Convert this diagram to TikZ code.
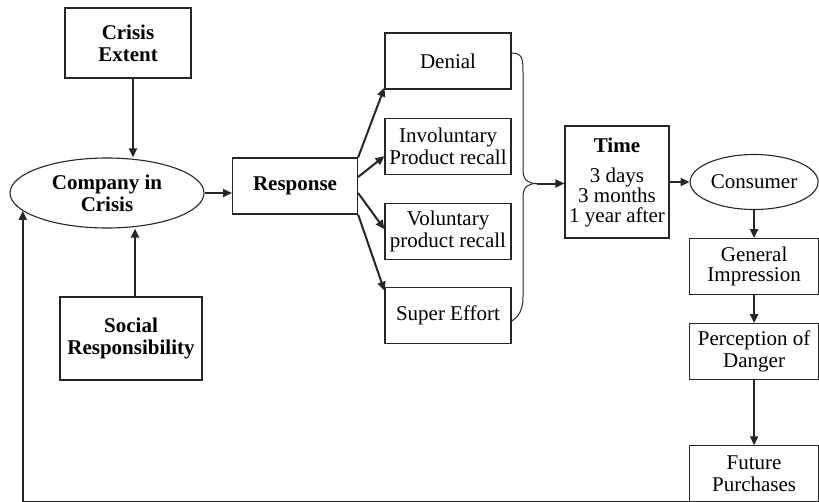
\documentclass[tikz,border=0pt]{standalone}
\usepackage{fontspec}
\setmainfont{Liberation Serif}
\usetikzlibrary{arrows.meta,positioning,shapes.geometric}

\begin{document}
\begin{tikzpicture}[
  x=1pt, y=-1pt,
  font=\fontsize{21}{22}\selectfont,
  >={Triangle[length=9pt, width=8pt]},
  blk/.style={rectangle, draw=black!85, line width=1.1pt, align=center,
              minimum width=126pt, minimum height=56pt, inner sep=2pt},
  oval/.style={ellipse, draw=black!85, line width=1.1pt, align=center, inner sep=0pt},
  hd/.style={font=\fontsize{21}{22}\selectfont\bfseries},
  ar/.style={->, line width=2pt, draw=black!85},
  brc/.style={line width=1pt, draw=black!85},
]
\useasboundingbox (0,0) rectangle (819,501);

% ---------- left: company and its drivers ----------
\node[blk, hd, minimum height=70pt] (ext) at (128,43) {Crisis\\Extent};
\node[oval, hd, minimum width=194pt, minimum height=70pt] (comp) at (107,193) {Company in\\Crisis};
\node[blk, hd, minimum width=142pt, minimum height=83pt] (soc) at (131,338.5) {Social\\Responsibility};
\node[blk, hd, minimum width=125pt, anchor=west] (resp) at (232,186) {Response};

% ---------- response options ----------
\node[blk] (den) at (448,61) {Denial};
\node[blk, below=28pt of den] (invol) {Involuntary\\Product recall};
\node[blk, below=28pt of invol] (vol) {Voluntary\\product recall};
\node[blk, below=27pt of vol] (sup) {Super Effort};

% ---------- time and consumer chain ----------
\node[blk, minimum width=104pt, minimum height=112pt, font=\fontsize{21}{20}\selectfont] (time) at (617,182)
  {\textbf{Time}\\[10pt]3 days\\3 months\\1 year after};
\node[oval, right=20pt of time, minimum width=128pt, minimum height=55pt] (cons) {Consumer};
\node[blk, below=28pt of cons, minimum width=129pt, font=\fontsize{21}{20}\selectfont] (gen) {General\\Impression};
\node[blk, below=28pt of gen, minimum width=129pt] (pd) {Perception of\\Danger};
\node[blk, below=65pt of pd, minimum width=129pt] (fp) {Future\\Purchases};

% ===== inputs to the company =====
\draw[ar] (ext.south -| 133,0) -- (comp.north -| 133,0);
\draw[ar] (soc.north -| 135,0) -- (comp.south -| 135,0);
\draw[ar] (comp.east) -- (comp.east -| resp.west);

% ===== response fans out =====
\draw[ar] (resp.north east) -- ([yshift=2pt]den.south west);
\draw[ar] ([yshift=9pt]resp.east) -- ([yshift=-10pt]invol.west);
\draw[ar] ([yshift=-7pt]resp.east) -- ([yshift=2pt]vol.west);
\draw[ar] (resp.south east) -- ([yshift=-4pt]sup.north west);

% ===== brace gathering the options =====
\coordinate (br) at (537,183.5);
\draw[brc] ([yshift=8pt]den.east) .. controls (523,53) and (523,60) .. (523,73)
  -- (523,170) .. controls (523,181) and (529,183.5) .. (br);
\draw[brc] (br) .. controls (529,183.5) and (523,186) .. (523,197)
  -- (523,297) .. controls (523,311) and (518,317) .. ([yshift=-6pt]sup.east);
\draw[ar] (br) -- (br -| time.west);

% ===== consumer chain =====
\draw[ar] (time.east |- cons.west) -- (cons.west);
\draw[ar] (cons) -- (gen);
\draw[ar] (gen) -- (pd);
\draw[ar] (pd) -- (fp);

% ===== feedback to the company =====
\draw[ar] (fp.south west) -| (comp.192);

\end{tikzpicture}
\end{document}
